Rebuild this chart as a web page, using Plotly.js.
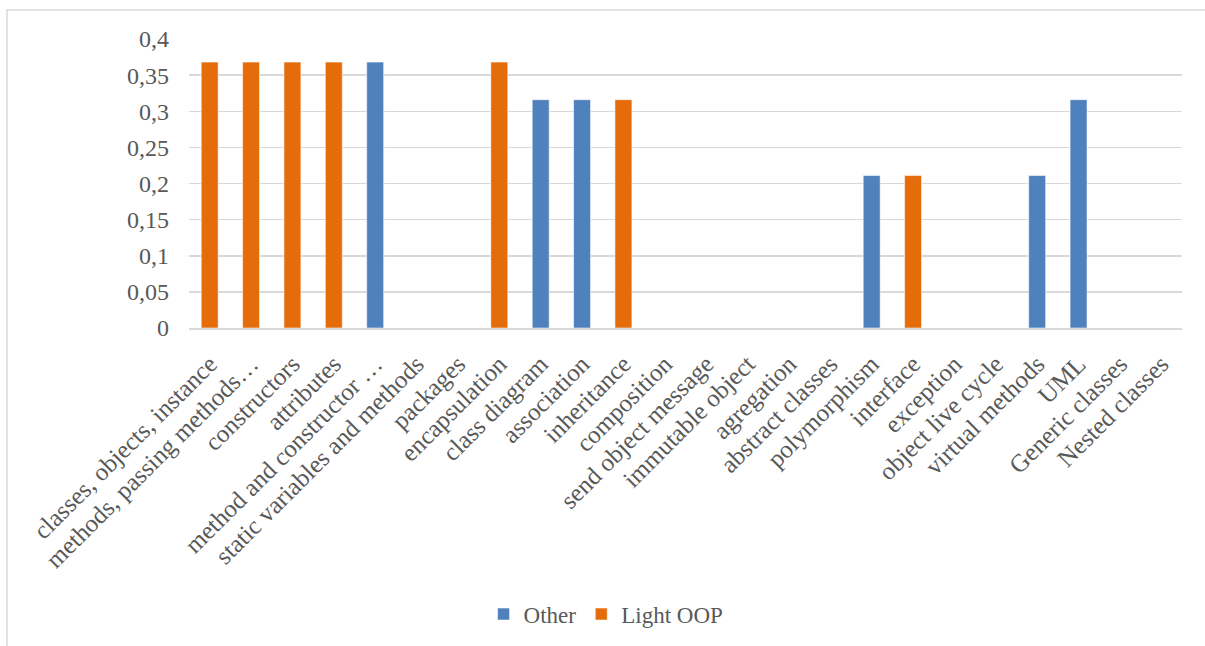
<!DOCTYPE html>
<html>
<head>
<meta charset="utf-8">
<script src="https://cdn.plot.ly/plotly-3.0.1.min.js"></script>
<style>
  html, body { margin: 0; padding: 0; background: #ffffff; }
  #chart { width: 1205px; height: 646px; }
</style>
</head>
<body>
<div id="chart"></div>
<script>
// OOP topics and the share of answers per group
const topics = [
  "classes, objects, instance",
  "methods, passing methods…",
  "constructors",
  "attributes",
  "method and constructor …",
  "static variables and methods",
  "packages",
  "encapsulation",
  "class diagram",
  "association",
  "inheritance",
  "composition",
  "send object message",
  "immutable object",
  "agregation",
  "abstract classes",
  "polymorphism",
  "interface",
  "exception",
  "object live cycle",
  "virtual methods",
  "UML",
  "Generic classes",
  "Nested classes"
];

const otherValues = [
  null, null, null, null, 0.368, null, null, null, 0.316, 0.316, null, null,
  null, null, null, null, 0.211, null, null, null, 0.211, 0.316, null, null
];

const lightOopValues = [
  0.368, 0.368, 0.368, 0.368, null, null, null, 0.368, null, null, 0.316, null,
  null, null, null, null, null, 0.211, null, null, null, null, null, null
];

const yTicks = [0, 0.05, 0.1, 0.15, 0.2, 0.25, 0.3, 0.35, 0.4];

const seriesNames = ["Other", "Light OOP"];
const seriesColors = ["#4F81BD", "#E46C0A"];

const textColor = "#595959";
const gridColor = "#D9D9D9";
const fontFamily = "'Liberation Serif', 'DejaVu Serif', serif";

const traces = [otherValues, lightOopValues].map((vals, i) => ({
  type: "bar",
  name: seriesNames[i],
  x: topics,
  y: vals,
  marker: {
    color: seriesColors[i],
    line: { color: "rgba(255,255,255,0.55)", width: 1 }
  },
  hoverinfo: "skip"
}));

const layout = {
  width: 1205,
  height: 646,
  margin: { l: 189, r: 23, t: 39, b: 317 },
  paper_bgcolor: "#ffffff",
  plot_bgcolor: "#ffffff",
  separators: ", ",
  barmode: "overlay",
  bargap: 0.59,
  font: { family: fontFamily, size: 24, color: textColor },
  showlegend: true,
  legend: {
    orientation: "h",
    x: 0.42,
    xanchor: "center",
    y: -0.983,
    yanchor: "middle",
    font: { family: fontFamily, size: 23, color: textColor },
    itemwidth: 30,
    traceorder: "normal"
  },
  xaxis: {
    type: "category",
    tickangle: -45,
    tickfont: { family: fontFamily, size: 25, color: textColor },
    showgrid: false,
    showline: true,
    linecolor: gridColor,
    linewidth: 1.5,
    ticks: "",
    ticklabelstandoff: 10,
    automargin: false,
    fixedrange: true
  },
  yaxis: {
    range: [0, 0.4],
    tickvals: yTicks,
    tickfont: { family: fontFamily, size: 24, color: textColor },
    showgrid: true,
    gridcolor: gridColor,
    gridwidth: 1.5,
    zeroline: false,
    showline: false,
    ticks: "",
    ticklabelstandoff: 19,
    automargin: false,
    fixedrange: true
  },
  shapes: [{
    type: "rect",
    xref: "paper",
    yref: "paper",
    x0: -0.1833,
    x1: 1.04,
    y0: -1.12,
    y1: 1.1,
    line: { color: gridColor, width: 1.5 },
    fillcolor: "rgba(0,0,0,0)",
    layer: "below"
  }]
};

Plotly.newPlot("chart", traces, layout, { displayModeBar: false, staticPlot: true });
</script>
</body>
</html>
